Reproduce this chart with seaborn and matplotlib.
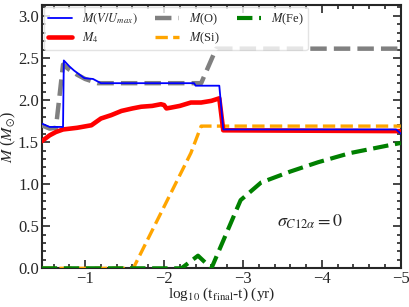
import numpy as np
import pandas as pd
import matplotlib
matplotlib.use("Agg")
import matplotlib.pyplot as plt
import seaborn as sns
from matplotlib.ticker import MultipleLocator, FuncFormatter

# data
x_vu = [-0.45, -0.55, -0.72, -0.73, -0.80, -0.86, -0.99, -1.10, -1.16, -1.20, -2.38, -2.40, -2.70, -2.75, -4.94, -5.0]
y_vu = [1.72, 1.68, 1.68, 2.47, 2.40, 2.35, 2.26, 2.25, 2.22, 2.20, 2.20, 2.17, 2.17, 1.65, 1.65, 1.60]

x_m4 = [-0.45, -0.55, -0.63, -0.72, -0.90, -1.08, -1.20, -1.33, -1.46, -1.60, -1.71, -1.85, -1.96, -2.00, -2.03, -2.09, -2.20, -2.34, -2.47, -2.60, -2.70, -2.75, -5.0]
y_m4 = [1.51, 1.58, 1.62, 1.65, 1.67, 1.70, 1.78, 1.82, 1.87, 1.90, 1.92, 1.93, 1.95, 1.94, 1.90, 1.91, 1.93, 1.97, 1.97, 1.99, 2.02, 1.64, 1.63]

x_o = [-0.45, -0.55, -0.63, -0.72, -0.80, -0.90, -1.00, -1.16, -2.47, -2.66, -5.0]
y_o = [1.70, 1.66, 1.67, 2.42, 2.36, 2.30, 2.25, 2.20, 2.20, 2.61, 2.61]

x_si = [-0.45, -1.61, -2.34, -2.47, -5.0]
y_si = [0.0, 0.0, 1.37, 1.69, 1.69]

x_fe = [-0.45, -2.22, -2.43, -2.60, -2.97, -3.23, -3.60, -3.95, -4.36, -5.0]
y_fe = [0.0, 0.0, 0.15, 0.0, 0.81, 1.02, 1.15, 1.26, 1.37, 1.49]

labels = [r"$M(V/U_{max})$", r"$M_4$", r"$M$(O)", r"$M$(Si)", r"$M$(Fe)"]

sns.set_style("ticks")
plt.rcParams["font.family"] = ["Liberation Serif", "DejaVu Serif"]
plt.rcParams["mathtext.fontset"] = "stix"

fig = plt.figure(figsize=(4.09, 3.07), dpi=100, facecolor="white")
ax = fig.add_axes([0.102, 0.126, 0.878, 0.858])
ax.set_facecolor("white")

sns.lineplot(x=x_vu, y=y_vu, ax=ax, color="#0000ff", lw=1.3, label=labels[0], sort=False, estimator=None, zorder=5)
sns.lineplot(x=x_m4, y=y_m4, ax=ax, color="#ff0000", lw=3.3, label=labels[1], sort=False, estimator=None, zorder=4)
sns.lineplot(x=x_o, y=y_o, ax=ax, color="grey", lw=3.2, label=labels[2], sort=False, estimator=None, zorder=3)
sns.lineplot(x=x_si, y=y_si, ax=ax, color="orange", lw=2.4, label=labels[3], sort=False, estimator=None, zorder=3)
sns.lineplot(x=x_fe, y=y_fe, ax=ax, color="green", lw=3.0, label=labels[4], sort=False, estimator=None, zorder=3)
for ln in ax.get_lines()[2:]:
    ln.set_linestyle("--")

ax.set_xlim(-0.45, -5.0)
ax.set_ylim(0, 3.13)
ax.xaxis.set_major_locator(MultipleLocator(1))
ax.xaxis.set_minor_locator(MultipleLocator(0.2))
ax.yaxis.set_major_locator(MultipleLocator(0.5))
ax.yaxis.set_minor_locator(MultipleLocator(0.1))
ax.tick_params(which="both", direction="in", top=True, right=True, labelsize=12, width=1.2, pad=2)
ax.tick_params(which="major", length=6)
ax.tick_params(which="minor", length=3)
for s in ax.spines.values():
    s.set_linewidth(1.5)
ax.xaxis.set_major_formatter(FuncFormatter(lambda v, p: "\u2212%d" % round(-v) if v < 0 else "%d" % v))

ax.set_xlabel(r"log$_{10}$ (t$_{\rm final}$-t) (yr)", fontsize=11, labelpad=-1)
ax.set_ylabel(r"$M$ ($M_{\odot}$)", fontsize=11.5, labelpad=0)
ax.text(-3.85, 0.55, r"$\sigma_{C12\alpha}=0$", fontsize=13, ha="center", va="center")

leg = ax.legend(loc="upper left", ncol=3, fontsize=9, frameon=True, borderaxespad=0.15,
                handlelength=1.9, handletextpad=0.8, columnspacing=1.4, labelspacing=0.3, borderpad=0.35)
leg.get_frame().set_edgecolor("#dddddd")

fig.savefig("out.png", dpi=100, facecolor="white")
